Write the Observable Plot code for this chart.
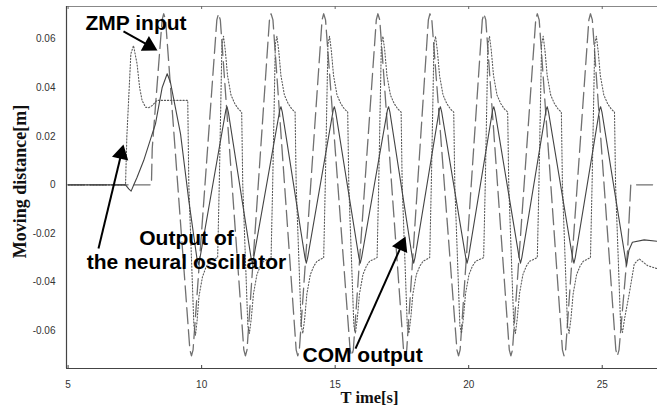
<!DOCTYPE html>
<html><head><meta charset="utf-8">
<script src="https://cdn.jsdelivr.net/npm/d3@7"></script>
<script src="https://cdn.jsdelivr.net/npm/@observablehq/plot@0.6"></script>
<style>body{margin:0;background:#fff;}</style>
</head><body><div id="chart"></div>
<script>
// ---- data: [time (s), moving distance (m)] ----
const zmpInput = [
[5,0],[8.12,0],[8.15,0.015],
[8.52,0.068],[8.58,0.0705],[8.65,0.068],
[9.56,-0.068],[9.62,-0.0705],[9.68,-0.068],
[10.57,0.068],[10.63,0.0705],[10.7,0.068],
[11.58,-0.068],[11.64,-0.0705],[11.7,-0.068],
[12.54,0.068],[12.6,0.0705],[12.67,0.068],
[13.54,-0.068],[13.6,-0.0705],[13.66,-0.068],
[14.51,0.068],[14.57,0.0705],[14.64,0.068],
[15.56,-0.068],[15.62,-0.0705],[15.68,-0.068],
[16.54,0.068],[16.6,0.0705],[16.67,0.068],
[17.56,-0.068],[17.62,-0.0705],[17.68,-0.068],
[18.49,0.068],[18.55,0.0705],[18.62,0.068],
[19.56,-0.068],[19.62,-0.0705],[19.68,-0.068],
[20.51,0.068],[20.57,0.0705],[20.64,0.068],
[21.52,-0.068],[21.58,-0.0705],[21.64,-0.068],
[22.51,0.068],[22.57,0.0705],[22.64,0.068],
[23.51,-0.068],[23.57,-0.0705],[23.63,-0.068],
[24.5,0.068],[24.56,0.0705],[24.63,0.068],
[25.51,-0.068],[25.57,-0.0705],[25.63,-0.068],
[25.95,-0.027],[26.06,-0.002],[26.07,0],[27.1,0]
];
const oscOutput = [
[5,0],[7.15,0],[7.2,0.02],[7.35,0.054],[7.45,0.0574],[7.58,0.050],[7.68,0.040],[7.77,0.0348],
[7.9,0.032],[8.02,0.0318],[8.15,0.0327],[8.33,0.0348],[9.48,0.0348],[9.52,0],[9.71,-0.058],
[9.77,-0.062],[9.83,-0.056],[9.9,-0.046],[10.03,-0.038],[10.16,-0.034],[10.29,-0.0316],
[10.6,-0.030],[10.66,0],[10.76,0.058],[10.82,0.0612],[10.89,0.055],[10.97,0.045],[11.1,0.037],[11.24,0.0335],[11.38,0.0312],[11.5,0.030],
[11.54,0],[11.73,-0.058],[11.79,-0.0612],[11.86,-0.055],[11.94,-0.045],[12.07,-0.037],[12.2,-0.0335],[12.32,-0.0315],
[12.6,-0.030],[12.66,0],[12.76,0.058],[12.82,0.0612],[12.89,0.055],[12.97,0.045],[13.1,0.037],[13.24,0.0335],[13.38,0.0312],[13.5,0.030],
[13.54,0],[13.73,-0.058],[13.79,-0.0612],[13.86,-0.055],[13.94,-0.045],[14.07,-0.037],[14.2,-0.0335],[14.32,-0.0315],
[14.57,-0.030],[14.63,0],[14.73,0.058],[14.79,0.0612],[14.86,0.055],[14.94,0.045],[15.07,0.037],[15.21,0.0335],[15.35,0.0312],[15.47,0.030],
[15.51,0],[15.7,-0.058],[15.76,-0.0612],[15.83,-0.055],[15.91,-0.045],[16.04,-0.037],[16.17,-0.0335],[16.29,-0.0315],
[16.57,-0.030],[16.63,0],[16.73,0.058],[16.79,0.0612],[16.86,0.055],[16.94,0.045],[17.07,0.037],[17.21,0.0335],[17.35,0.0312],[17.47,0.030],
[17.51,0],[17.7,-0.058],[17.76,-0.0612],[17.83,-0.055],[17.91,-0.045],[18.04,-0.037],[18.17,-0.0335],[18.29,-0.0315],
[18.54,-0.030],[18.6,0],[18.7,0.058],[18.76,0.0612],[18.83,0.055],[18.91,0.045],[19.04,0.037],[19.18,0.0335],[19.32,0.0312],[19.44,0.030],
[19.48,0],[19.67,-0.058],[19.73,-0.0612],[19.8,-0.055],[19.88,-0.045],[20.01,-0.037],[20.14,-0.0335],[20.26,-0.0315],
[20.56,-0.030],[20.62,0],[20.72,0.058],[20.78,0.0612],[20.85,0.055],[20.93,0.045],[21.06,0.037],[21.2,0.0335],[21.34,0.0312],[21.46,0.030],
[21.5,0],[21.69,-0.058],[21.75,-0.0612],[21.82,-0.055],[21.9,-0.045],[22.03,-0.037],[22.16,-0.0335],[22.28,-0.0315],
[22.57,-0.030],[22.63,0],[22.73,0.058],[22.79,0.0612],[22.86,0.055],[22.94,0.045],[23.07,0.037],[23.21,0.0335],[23.35,0.0312],[23.47,0.030],
[23.51,0],[23.7,-0.058],[23.76,-0.0612],[23.83,-0.055],[23.91,-0.045],[24.04,-0.037],[24.17,-0.0335],[24.29,-0.0315],
[24.56,-0.030],[24.62,0],[24.72,0.058],[24.78,0.0612],[24.85,0.055],[24.93,0.045],[25.06,0.037],[25.2,0.0335],[25.34,0.0312],[25.46,0.030],
[25.5,0],[25.69,-0.058],[25.76,-0.0608],[25.84,-0.055],[26.01,-0.045],[26.2,-0.0326],[26.385,-0.0305],[26.55,-0.032],[26.7,-0.0333],[27.07,-0.0346]
];
const comOutput = [
[5,0],[7.15,0],[7.27,-0.0017],[7.36,-0.0026],[7.46,0],[7.58,0.003],[7.83,0.010],[8.15,0.021],[8.27,0.025],
[8.52,0.040],[8.71,0.0458],[8.83,0.0423],[9.21,0.021],[9.52,-0.0065],[9.82,-0.030],[9.88,-0.0328],[9.94,-0.030],
[10.91,0.031],[10.95,0.0322],[11.0,0.030],[11.85,-0.030],[11.9,-0.0323],[11.95,-0.030],
[12.93,0.031],[12.97,0.0322],[13.02,0.030],[13.87,-0.030],[13.92,-0.0323],[13.97,-0.030],
[14.93,0.031],[14.97,0.0322],[15.02,0.030],[15.89,-0.030],[15.94,-0.0323],[15.99,-0.030],
[16.96,0.031],[17.0,0.0322],[17.05,0.030],[17.89,-0.030],[17.94,-0.0323],[17.99,-0.030],
[18.9,0.031],[18.94,0.0322],[18.99,0.030],[19.89,-0.030],[19.94,-0.0323],[19.99,-0.030],
[20.9,0.031],[20.94,0.0322],[20.99,0.030],[21.89,-0.030],[21.94,-0.0323],[21.99,-0.030],
[22.9,0.031],[22.94,0.0322],[22.99,0.030],[23.89,-0.030],[23.94,-0.0323],[23.99,-0.030],
[24.9,0.031],[24.94,0.0322],[24.99,0.030],[25.86,-0.030],[25.91,-0.0333],[26.0,-0.027],
[26.13,-0.0237],[26.57,-0.0227],[27.1,-0.0233]
];
const xTicks = [5, 10, 15, 20, 25];
const yTicks = [-0.06, -0.04, -0.02, 0, 0.02, 0.04, 0.06];
const xDomain = [4.94, 27.07];
const yDomain = [-0.0757, 0.0735];
// annotations (data coordinates)
const noteText = ["ZMP input", "Output of", "the neural oscillator", "COM output"];
const noteT = [5.651, 9.433, 9.433, 13.777];
const noteV = [0.0640, -0.0250, -0.0345, -0.0732];
const noteAnchor = ["start", "middle", "middle", "start"];
const arrowTail = [[7.074, 0.0632], [6.138, -0.0262], [15.762, -0.0675]];
const arrowTip  = [[8.347, 0.0554], [7.074, 0.0166], [17.634, -0.0213]];

// ---- layout ----
const W = 657, H = 410, mL = 66, mR = 0, mT = 6, mB = 42;
const headR = 6.2;
const tipDist = 2 * Math.sqrt(Math.PI * headR * headR / (3 * Math.sqrt(3)));
const xs = d3.scaleLinear(xDomain, [mL, W - mR]);
const ys = d3.scaleLinear(yDomain, [H - mB, mT]);
const notes = noteText.map((text, i) => ({text, t: noteT[i], v: noteV[i], anchor: noteAnchor[i]}));
const heads = arrowTail.map((a, i) => {
  const b = arrowTip[i];
  const x1 = xs(a[0]), y1 = ys(a[1]), x2 = xs(b[0]), y2 = ys(b[1]);
  const L = Math.hypot(x2 - x1, y2 - y1), ux = (x2 - x1) / L, uy = (y2 - y1) / L;
  return {t1: a[0], v1: a[1], t: xs.invert(x2 - ux * tipDist), v: ys.invert(y2 - uy * tipDist),
          angle: Math.atan2(ux, -uy) * 180 / Math.PI};
});
const noteStyle = {x: "t", y: "v", text: "text", lineAnchor: "bottom", fontSize: 21, fontWeight: "bold", fill: "#000"};
const serif = "'Liberation Serif', 'Times New Roman', serif";

const chart = Plot.plot({
  width: W, height: H,
  marginLeft: mL, marginRight: mR, marginTop: mT, marginBottom: mB,
  x: {domain: xDomain},
  y: {domain: yDomain},
  style: {fontFamily: "'Liberation Sans', Arial, sans-serif", background: "#fff", color: "#333"},
  marks: [
    Plot.ruleY([yDomain[1]], {stroke: "#888", strokeWidth: 1}),
    Plot.ruleY([yDomain[0]], {stroke: "#444", strokeWidth: 1.2}),
    Plot.ruleX([xDomain[0]], {stroke: "#444", strokeWidth: 1.2}),
    Plot.tickX(xTicks, {x: d => d, insetTop: H - mT - mB - 3, stroke: "#444"}),
    Plot.tickX(xTicks, {x: d => d, insetBottom: H - mT - mB - 3, stroke: "#666"}),
    Plot.line(zmpInput, {x: d => d[0], y: d => d[1], stroke: "#707070", strokeWidth: 1.3, strokeDasharray: "16,6"}),
    Plot.line(oscOutput, {x: d => d[0], y: d => d[1], stroke: "#5a5a5a", strokeWidth: 1.1, strokeDasharray: "1.2,1.9"}),
    Plot.line(comOutput, {x: d => d[0], y: d => d[1], stroke: "#444", strokeWidth: 1.1}),
    Plot.axisY({ticks: yTicks, tickFormat: d => d === 0 ? "0" : d.toFixed(2), tickSize: 0, tickPadding: 11, fontSize: 10, label: null}),
    Plot.axisX({ticks: xTicks, tickFormat: d => String(d), tickSize: 0, tickPadding: 12, fontSize: 10, label: null}),
    Plot.text(["Moving distance[m]"], {frameAnchor: "left", text: d => d, rotate: -90, dx: -41, dy: -6,
      fontFamily: serif, fontSize: 18, fontWeight: "bold", fill: "#111", textAnchor: "middle", lineAnchor: "bottom"}),
    Plot.text(["T ime[s]"], {frameAnchor: "bottom", text: d => d, dx: 7.5, dy: 34, lineAnchor: "bottom",
      fontFamily: serif, fontSize: 16.5, fontWeight: "bold", fill: "#111"}),
    Plot.text(notes.filter(d => d.anchor === "start"), {...noteStyle, textAnchor: "start"}),
    Plot.text(notes.filter(d => d.anchor === "middle"), {...noteStyle, textAnchor: "middle"}),
    Plot.link(heads, {x1: "t1", y1: "v1", x2: "t", y2: "v", stroke: "#000", strokeWidth: 2}),
    Plot.dot(heads, {x: "t", y: "v", symbol: "triangle", r: headR, fill: "#000", stroke: "none", rotate: "angle"})
  ]
});
document.getElementById("chart").appendChild(chart);
</script>
</body></html>
